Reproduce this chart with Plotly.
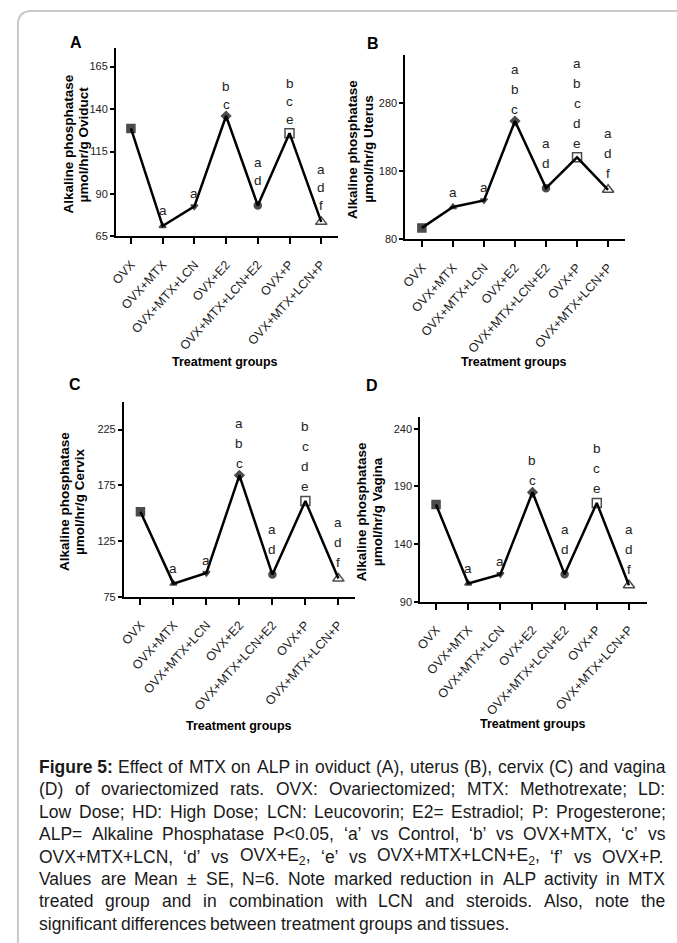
import re
import plotly.graph_objects as go

W, H = 677, 943

groups = ["OVX", "OVX+MTX", "OVX+MTX+LCN", "OVX+E2", "OVX+MTX+LCN+E2", "OVX+P", "OVX+MTX+LCN+P"]

oviduct = [128.6, 71.2, 82.7, 135.9, 83.3, 125.8, 73.6]
uterus = [97.0, 127.7, 137.4, 254.0, 155.4, 200.7, 153.0]
cervix = [151.4, 86.9, 96.4, 184.0, 95.0, 161.0, 91.4]
vagina = [174.3, 105.7, 113.7, 184.9, 113.7, 175.7, 104.3]

letters_A = ["", "a", "a", "bc", "ad", "bce", "adf"]
letters_B = ["", "a", "a", "abc", "ad", "abcde", "adf"]
letters_C = ["", "a", "a", "abc", "ad", "bcde", "adf"]
letters_D = ["", "a", "a", "bc", "ad", "bce", "adf"]

yticks_A = [65, 90, 115, 140, 165]
yticks_B = [80, 180, 280]
yticks_C = [75, 125, 175, 225]
yticks_D = [90, 140, 190, 240]

tissues = ["Oviduct", "Uterus", "Cervix", "Vagina"]

caption = [
    "<b>Figure 5:</b> Effect of MTX on ALP in oviduct (A), uterus (B), cervix (C) and vagina",
    "(D) of ovariectomized rats. OVX: Ovariectomized; MTX: Methotrexate; LD:",
    "Low Dose; HD: High Dose; LCN: Leucovorin; E2= Estradiol; P: Progesterone;",
    "ALP= Alkaline Phosphatase P&lt;0.05, ‘a’ vs Control, ‘b’ vs OVX+MTX, ‘c’ vs",
    "OVX+MTX+LCN, ‘d’ vs OVX+E<sub>2</sub>, ‘e’ vs OVX+MTX+LCN+E<sub>2</sub>, ‘f’ vs OVX+P.",
    "Values are Mean ± SE, N=6. Note marked reduction in ALP activity in MTX",
    "treated group and in combination with LCN and steroids. Also, note the",
    "significant differences between treatment groups and tissues.",
]

# ---------------- style / layout parameters (pixels) ----------------
FONT = "Arial, Liberation Sans, sans-serif"
symbols = ["square", "triangle-up", "triangle-down", "diamond", "circle", "square-open", "triangle-up-open"]
msizes = [8, 6, 6, 7, 7, 9, 10]
lift = [0, 15, 13, 12, 25, 14, 16]

panels = [
    dict(name="A", vals=oviduct, letters=letters_A, ticks=yticks_A, yr=[65, 176.1],
         x0=111, x1=335, ytop=48, ybot=238, xr=[-0.47, 6.53], spacing=18,
         title_x=(63, 78), plabel=(71, 43), tg=(221, 364)),
    dict(name="B", vals=uterus, letters=letters_B, ticks=yticks_B, yr=[80, 351.5],
         x0=403, x1=625, ytop=55, ybot=241, xr=[-0.53, 6.56], spacing=20,
         title_x=(349, 365), plabel=(370, 44), tg=(513, 364)),
    dict(name="C", vals=cervix, letters=letters_C, ticks=yticks_C, yr=[75, 249.4],
         x0=119, x1=352, ytop=405, ybot=600.7, xr=[-0.5, 6.5], spacing=20,
         title_x=(59, 74), plabel=(70, 387), tg=(235, 731)),
    dict(name="D", vals=vagina, letters=letters_D, ticks=yticks_D, yr=[90, 250],
         x0=418, x1=647, ytop=420, ybot=605.5, xr=[-0.49, 6.57], spacing=20,
         title_x=(359, 375), plabel=(369, 388), tg=(532, 729)),
]

CAP_LEFT, CAP_RIGHT, CAP_TOP, CAP_STEP, CAP_SIZE = 33, 665, 772, 22.5, 17.5

# Arial / Liberation Sans advance widths (1/1000 em)
REG = {' ': 278, '(': 333, ')': 333, '+': 584, ',': 278, '-': 333, '.': 278, '/': 278,
       ':': 278, ';': 278, '<': 584, '=': 584, '‘': 222, '’': 222, '±': 584, 'µ': 556,
       'A': 667, 'B': 667, 'C': 722, 'D': 722, 'E': 667, 'F': 611, 'G': 778, 'H': 722,
       'I': 278, 'J': 500, 'K': 667, 'L': 556, 'M': 833, 'N': 722, 'O': 778, 'P': 667,
       'Q': 778, 'R': 722, 'S': 667, 'T': 611, 'U': 722, 'V': 667, 'W': 944, 'X': 667,
       'Y': 667, 'Z': 611, 'a': 556, 'b': 556, 'c': 500, 'd': 556, 'e': 556, 'f': 278,
       'g': 556, 'h': 556, 'i': 222, 'j': 222, 'k': 500, 'l': 222, 'm': 833, 'n': 556,
       'o': 556, 'p': 556, 'q': 556, 'r': 333, 's': 500, 't': 278, 'u': 556, 'v': 500,
       'w': 722, 'x': 500, 'y': 500, 'z': 500}
BOLD = {'F': 611, 'i': 278, 'g': 611, 'u': 611, 'r': 389, 'e': 556, '5': 556, ':': 333, ' ': 278}


def word_width(word, size):
    w = 0.0
    for m in re.finditer(r"<b>(.*?)</b>|<sub>(.*?)</sub>|([^<]+)", word):
        if m.group(1) is not None:
            w += sum(BOLD.get(c, 556) for c in m.group(1)) * size / 1000
        elif m.group(2) is not None:
            w += sum(REG.get(c, 556) for c in m.group(2)) * size * 0.7 / 1000
        else:
            t = m.group(3).replace("&lt;", "<")
            w += sum(REG.get(c, 556) for c in t) * size / 1000
    return w


def px(x):
    return x / W


def py(y):
    return 1 - y / H


fig = go.Figure()
annotations = []

for i, p in enumerate(panels):
    sfx = "" if i == 0 else str(i + 1)
    xa, ya = "x" + sfx, "y" + sfx
    fig.add_trace(go.Scatter(
        x=groups, y=p["vals"], mode="lines+markers",
        line=dict(color="black", width=2.5),
        marker=dict(symbol=symbols, size=msizes, color="black",
                    line=dict(color="black", width=1.5)),
        xaxis=xa, yaxis=ya, showlegend=False, cliponaxis=False,
        hoverinfo="skip",
    ))
    axis_common = dict(showline=True, linecolor="black", linewidth=2, showgrid=False,
                       zeroline=False, ticks="outside", tickcolor="black", tickwidth=2)
    fig.layout["xaxis" + sfx] = dict(
        domain=[px(p["x0"]), px(p["x1"])], anchor=ya, type="category",
        range=p["xr"], tickangle=-48, ticklen=6, categoryorder="array",
        categoryarray=groups, ticklabelstandoff=8,
        tickfont=dict(family=FONT, size=12.5, color="#222"), **axis_common)
    fig.layout["yaxis" + sfx] = dict(
        domain=[py(p["ybot"]), py(p["ytop"])], anchor=xa, range=p["yr"],
        tickvals=p["ticks"], ticklen=4, ticklabelstandoff=0,
        tickfont=dict(family=FONT, size=11, color="#222"), **axis_common)

    # significance letters
    for j, (g, v, ls) in enumerate(zip(groups, p["vals"], p["letters"])):
        n = len(ls)
        for k, ch in enumerate(ls):
            annotations.append(dict(
                x=g, y=v, xref=xa, yref=ya, text=ch, showarrow=False,
                yanchor="middle", xanchor="center",
                yshift=lift[j] + (n - 1 - k) * p["spacing"],
                font=dict(family=FONT, size=13.5, color="#222")))

    # y-axis title (two lines)
    yc = (p["ytop"] + p["ybot"]) / 2 + 2
    for line, xx in zip(["Alkaline phosphatase", "µmol/hr/g " + tissues[i]], p["title_x"]):
        annotations.append(dict(
            x=px(xx), y=py(yc), xref="paper", yref="paper", text="<b>" + line + "</b>",
            textangle=-90, showarrow=False, xanchor="center", yanchor="middle",
            font=dict(family=FONT, size=13.5, color="black")))
    # x-axis title
    annotations.append(dict(
        x=px(p["tg"][0]), y=py(p["tg"][1]), xref="paper", yref="paper",
        text="<b>Treatment groups</b>", showarrow=False, xanchor="center", yanchor="middle",
        font=dict(family=FONT, size=12.5, color="black")))
    # panel letter
    annotations.append(dict(
        x=px(p["plabel"][0]), y=py(p["plabel"][1]), xref="paper", yref="paper",
        text="<b>" + p["name"] + "</b>", showarrow=False, xanchor="center", yanchor="middle",
        font=dict(family=FONT, size=16, color="black")))

# caption, justified word by word (last line left aligned)
cap_font = dict(family=FONT, size=CAP_SIZE, color="#1a1a1a")
for k, line in enumerate(caption):
    words = re.split(r" (?![^<]*</b>)", line)
    widths = [word_width(w, CAP_SIZE) for w in words]
    space = REG[' '] * CAP_SIZE / 1000
    if k < len(caption) - 1 and len(words) > 1:
        gap = (CAP_RIGHT - CAP_LEFT - sum(widths)) / (len(words) - 1)
        gap = max(gap, space * 0.8)
    else:
        gap = space
    x = CAP_LEFT
    for w, wd in zip(words, widths):
        annotations.append(dict(
            x=px(x), y=py(CAP_TOP + CAP_STEP * k), xref="paper", yref="paper", text=w,
            showarrow=False, xanchor="left", yanchor="middle", font=cap_font,
            borderpad=0, borderwidth=0))
        x += wd + gap

# frame border (top-left rounded corner)
L, T, R = 12, 11, 14
border = (f"M {px(L)},{py(H + 20)} L {px(L)},{py(T + R)} "
          f"Q {px(L)},{py(T)} {px(L + R)},{py(T)} L {px(W + 20)},{py(T)}")

fig.update_layout(
    width=W, height=H, autosize=False,
    margin=dict(l=0, r=0, t=0, b=0),
    paper_bgcolor="white", plot_bgcolor="white",
    annotations=annotations, hovermode=False,
    shapes=[dict(type="path", path=border, xref="paper", yref="paper",
                 line=dict(color="#c8c8c8", width=2))],
)

fig.write_html("out.html", config={"displayModeBar": False},
               post_script="document.body.style.margin='0';document.body.style.overflow='hidden';")
